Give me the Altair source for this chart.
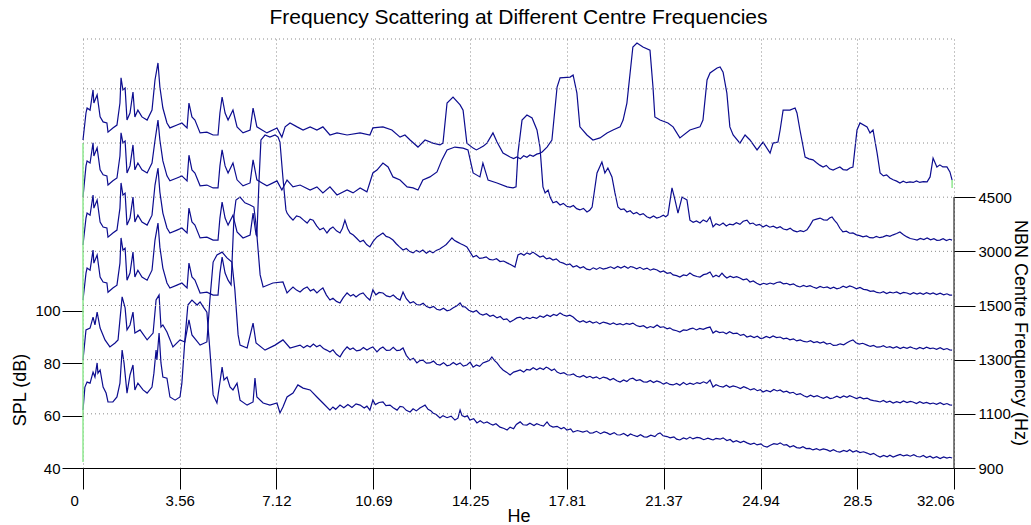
import json
import altair as alt
import pandas as pd

TITLE = "Frequency Scattering at Different Centre Frequencies"
X_TICKS = [0, 3.56, 7.12, 10.69, 14.25, 17.81, 21.37, 24.94, 28.5, 32.06]
SPL_TICKS = [40, 60, 80, 100]
NBN_LABELS = ["900", "1100", "1300", "1500", "3000", "4500"]
NBN_POS = [0, 1, 2, 3, 4, 5]
GRID_LEVELS = [1, 2, 3, 4, 5, 6, 7, 7.92]

# (He, displayed SPL dB), one list per NBN centre frequency
CURVE_4500 = [
    (0, 165.2), (0.11, 175.5), (0.15, 177.4), (0.26, 176.6), (0.37, 184.3), (0.40, 179.3),
    (0.52, 182.4), (0.63, 174.0), (0.74, 172.1), (0.88, 171.7), (0.92, 168.2), (1.10, 169.8),
    (1.25, 170.9), (1.36, 179.3), (1.40, 188.9), (1.47, 184.3), (1.55, 185.0), (1.62, 172.8),
    (1.73, 175.5), (1.84, 183.5), (1.91, 174.0), (2.02, 176.6), (2.17, 174.0), (2.36, 172.8),
    (2.54, 176.6), (2.65, 188.1), (2.76, 194.6), (2.83, 185.4), (2.94, 177.4), (3.09, 171.7),
    (3.20, 169.8), (3.46, 170.9), (3.64, 171.7), (3.83, 169.8), (3.90, 179.3), (4.01, 174.0),
    (4.12, 172.8), (4.31, 167.9), (4.56, 168.2), (4.79, 167.1), (4.97, 167.1), (5.04, 175.5),
    (5.12, 181.6), (5.23, 175.5), (5.34, 172.8), (5.52, 176.6), (5.67, 170.2), (5.89, 167.9),
    (6.15, 169.0), (6.26, 177.4), (6.40, 170.2), (6.59, 169.0), (6.77, 167.9), (7.14, 169.8),
    (7.32, 166.3), (7.44, 170.2), (7.62, 171.7), (7.88, 170.2), (8.10, 169.0), (8.36, 170.2),
    (8.61, 169.0), (8.83, 170.2), (9.09, 167.1), (9.35, 167.9), (9.72, 167.1), (10.20, 167.9),
    (10.56, 167.1), (10.67, 169.8), (11.04, 170.2), (11.37, 169.0), (11.67, 166.3), (11.85, 167.1),
    (12.04, 165.2), (12.33, 162.5), (12.59, 165.2), (12.88, 164.0), (13.14, 163.3), (13.25, 164.0),
    (13.40, 179.3), (13.62, 181.6), (13.88, 178.6), (13.99, 176.6), (14.13, 164.0), (14.36, 162.1),
    (14.48, 161.4), (14.61, 162.1), (14.74, 162.9), (14.87, 164.0), (15.09, 167.9), (15.24, 164.4),
    (15.46, 160.2), (15.72, 158.7), (15.85, 158.1), (15.97, 158.7), (16.10, 158.0), (16.22, 159.2),
    (16.34, 158.6), (16.45, 159.5), (16.57, 159.0), (16.70, 159.8), (16.80, 160.1), (16.90, 160.6),
    (17.08, 162.5), (17.26, 165.2), (17.45, 185.4),
    (17.56, 188.9), (17.93, 189.2), (18.04, 190.0), (18.18, 183.1), (18.29, 170.2), (18.55, 167.1),
    (18.77, 165.2), (19.03, 166.0), (19.29, 167.9), (19.51, 169.0), (19.77, 170.2), (19.88, 172.8),
    (20.02, 179.3), (20.24, 200.7), (20.39, 202.2), (20.61, 200.7), (20.87, 199.5), (20.98, 185.4),
    (21.05, 174.0), (21.24, 172.8), (21.53, 171.7), (21.72, 170.2), (21.97, 166.0), (22.34, 169.0),
    (22.71, 170.2), (22.82, 172.8), (22.97, 188.1), (23.08, 190.8), (23.34, 192.7), (23.45, 193.1),
    (23.56, 191.1), (23.70, 183.1), (23.81, 170.2), (23.93, 167.1), (24.18, 164.0), (24.37, 167.1),
    (24.55, 165.2), (24.81, 161.4), (25.03, 164.4), (25.29, 160.2), (25.40, 164.0), (25.58, 164.4),
    (25.66, 169.0), (25.77, 176.6), (26.02, 176.6), (26.21, 177.4), (26.28, 175.5), (26.39, 169.0),
    (26.58, 158.7), (26.72, 158.0), (26.87, 157.6), (27.00, 156.5), (27.12, 155.6), (27.24, 154.9),
    (27.36, 155.5), (27.48, 154.2), (27.61, 153.7), (27.73, 154.3), (27.86, 154.9), (27.98, 153.9),
    (28.12, 153.7), (28.23, 154.5), (28.34, 154.9), (28.49, 169.0), (28.60, 171.7), (28.86, 170.2),
    (28.97, 167.9), (29.08, 169.0), (29.23, 160.2), (29.34, 152.6), (29.46, 151.5), (29.58, 151.9),
    (29.70, 150.7), (29.82, 150.0), (29.95, 149.5), (30.07, 148.8), (30.19, 149.5), (30.31, 148.9),
    (30.44, 149.2), (30.56, 149.0), (30.68, 149.6), (30.80, 149.0), (30.93, 149.3), (31.07, 149.2),
    (31.18, 151.1), (31.29, 158.3), (31.43, 154.9), (31.54, 155.7), (31.65, 154.9), (31.80, 154.9),
    (31.91, 153.0), (31.99, 149.9),
]

CURVE_3000 = [
    (0, 143.4), (0.11, 155.3), (0.15, 157.2), (0.26, 156.4), (0.37, 164.1), (0.40, 159.1),
    (0.52, 162.2), (0.63, 153.8), (0.74, 151.9), (0.88, 151.5), (0.92, 148.0), (1.10, 149.6),
    (1.25, 150.7), (1.36, 159.1), (1.40, 167.9), (1.47, 164.1), (1.55, 164.8), (1.62, 152.6),
    (1.73, 155.3), (1.84, 163.3), (1.91, 153.8), (2.02, 156.4), (2.17, 153.8), (2.36, 152.6),
    (2.54, 156.4), (2.65, 165.0), (2.76, 172.8), (2.83, 165.2), (2.94, 157.2), (3.09, 151.5),
    (3.20, 149.6), (3.46, 150.7), (3.64, 151.5), (3.83, 149.6), (3.90, 159.4), (4.01, 153.8),
    (4.12, 152.6), (4.31, 147.7), (4.56, 148.0), (4.79, 146.9), (4.97, 146.9), (5.04, 155.3),
    (5.12, 161.4), (5.23, 155.3), (5.34, 152.6), (5.52, 156.4), (5.67, 150.0), (5.89, 147.7),
    (6.15, 148.8), (6.26, 157.6), (6.40, 150.0), (6.59, 148.8), (6.77, 147.7), (7.14, 149.6),
    (7.32, 146.1), (7.51, 149.9), (7.73, 147.3), (7.99, 148.0), (8.36, 146.1), (8.61, 147.3),
    (8.83, 145.0), (9.09, 147.3), (9.35, 144.2), (9.72, 146.1), (9.94, 145.0), (10.20, 146.9),
    (10.45, 145.4), (10.67, 152.6), (10.82, 153.7), (11.04, 156.4), (11.23, 154.9), (11.41, 151.1),
    (11.67, 149.9), (11.93, 147.3), (12.15, 146.9), (12.33, 146.1), (12.51, 149.9), (12.77, 151.1),
    (13.03, 153.0), (13.21, 157.6), (13.40, 161.4), (13.69, 162.5), (13.99, 162.1), (14.17, 161.4),
    (14.36, 152.6), (14.61, 151.1), (14.72, 156.4), (14.91, 149.9), (15.24, 148.8), (15.61, 147.3),
    (15.83, 146.9), (15.94, 147.3), (16.01, 160.2), (16.16, 172.8), (16.34, 174.7), (16.53, 173.6),
    (16.71, 169.0), (16.82, 162.5), (16.93, 147.3), (17.01, 145.0), (17.12, 146.1), (17.20, 143.2),
    (17.30, 141.2), (17.43, 141.7), (17.56, 140.4), (17.68, 141.0), (17.80, 139.9), (17.93, 139.6),
    (18.05, 140.2), (18.17, 139.0), (18.29, 138.5), (18.42, 139.1), (18.55, 137.7), (18.65, 138.4),
    (18.74, 139.6), (18.92, 152.6), (19.10, 156.8), (19.21, 152.6), (19.32, 154.5), (19.47, 151.1),
    (19.58, 145.0), (19.69, 139.6), (19.80, 138.6), (19.91, 138.9), (20.02, 137.7), (20.14, 138.2),
    (20.26, 137.0), (20.38, 137.5), (20.50, 136.6), (20.62, 137.1), (20.75, 135.9), (20.87, 135.4),
    (21.00, 136.2), (21.12, 135.4), (21.24, 135.8), (21.36, 136.5), (21.45, 135.9), (21.53, 136.6),
    (21.68, 146.9), (21.79, 142.3), (21.90, 137.3), (22.05, 143.4), (22.23, 142.3), (22.34, 134.6),
    (22.46, 133.8), (22.58, 134.3), (22.71, 133.5), (22.83, 134.7), (22.96, 134.0), (23.08, 135.8),
    (23.19, 132.0), (23.30, 133.2), (23.43, 132.6), (23.56, 133.5), (23.68, 132.4), (23.80, 133.1),
    (23.93, 132.8), (24.05, 133.6), (24.18, 133.0), (24.30, 134.2), (24.44, 134.6), (24.55, 133.2),
    (24.66, 133.5), (24.78, 132.6), (24.90, 133.0), (25.03, 132.0), (25.15, 132.7), (25.28, 131.9),
    (25.41, 132.3), (25.54, 131.6), (25.66, 132.1), (25.78, 131.2), (25.91, 130.9), (26.03, 131.5),
    (26.15, 130.6), (26.28, 130.1), (26.40, 130.6), (26.52, 130.2), (26.65, 130.9), (26.76, 132.6),
    (26.87, 134.6), (27.00, 135.0), (27.13, 135.4), (27.26, 134.7), (27.39, 134.6), (27.48, 135.4),
    (27.57, 135.8), (27.66, 134.5), (27.75, 133.5), (27.86, 131.5), (27.97, 130.1), (28.10, 130.4),
    (28.22, 129.6), (28.34, 129.7), (28.47, 129.0), (28.59, 128.7), (28.71, 128.2), (28.84, 128.6),
    (28.96, 127.9), (29.08, 127.8), (29.20, 128.4), (29.33, 127.9), (29.45, 128.2), (29.58, 128.8),
    (29.70, 128.4), (29.82, 129.0), (29.95, 129.5), (30.07, 130.1), (30.20, 129.0), (30.33, 128.2),
    (30.45, 127.6), (30.58, 127.3), (30.70, 127.0), (30.82, 127.6), (30.95, 127.2), (31.07, 127.8),
    (31.20, 127.1), (31.32, 127.5), (31.43, 126.9), (31.54, 127.0), (31.66, 127.5), (31.78, 126.8),
    (31.90, 127.3), (31.99, 127.0),
]

CURVE_1500 = [
    (0, 125.1), (0.11, 135.4), (0.15, 137.3), (0.26, 136.5), (0.37, 144.2), (0.40, 139.2),
    (0.52, 142.3), (0.63, 133.9), (0.74, 132.0), (0.88, 131.6), (0.92, 128.1), (1.10, 129.7),
    (1.25, 130.8), (1.36, 139.2), (1.40, 148.8), (1.47, 144.2), (1.55, 144.9), (1.62, 132.7),
    (1.73, 135.4), (1.84, 143.4), (1.91, 133.9), (2.02, 136.5), (2.17, 133.9), (2.36, 132.7),
    (2.54, 136.5), (2.65, 148.0), (2.76, 154.5), (2.83, 145.3), (2.94, 137.3), (3.09, 131.6),
    (3.20, 129.7), (3.46, 130.8), (3.64, 131.6), (3.83, 129.7), (3.90, 139.2), (4.01, 133.9),
    (4.12, 132.7), (4.31, 127.8), (4.56, 128.1), (4.79, 127.0), (4.97, 127.0), (5.04, 135.4),
    (5.12, 141.5), (5.23, 135.4), (5.34, 132.7), (5.52, 136.5), (5.67, 130.1), (5.89, 127.8),
    (6.15, 128.9), (6.26, 137.3), (6.37, 129.0), (6.40, 128.6), (6.48, 149.9), (6.55, 165.2),
    (6.70, 167.1), (6.88, 166.3), (7.07, 167.1), (7.18, 166.3), (7.25, 164.4), (7.36, 150.7),
    (7.47, 138.5), (7.51, 137.3), (7.62, 135.8), (7.73, 134.6), (7.86, 136.2), (7.99, 135.8),
    (8.12, 134.6), (8.25, 133.5), (8.36, 135.0), (8.47, 134.6), (8.60, 132.4), (8.72, 130.9),
    (8.85, 131.6), (8.98, 129.7), (9.09, 131.2), (9.20, 132.0), (9.33, 130.5), (9.46, 129.7),
    (9.55, 131.5), (9.64, 134.6), (9.74, 131.4), (9.83, 129.7), (9.95, 128.9), (10.08, 127.6),
    (10.20, 126.3), (10.32, 126.9), (10.44, 125.3), (10.56, 124.4), (10.68, 126.5), (10.82, 128.2),
    (10.93, 128.9), (11.04, 129.7), (11.16, 128.4), (11.28, 128.0), (11.41, 127.0), (11.53, 125.6),
    (11.65, 124.4), (11.78, 123.2), (11.90, 123.8), (12.03, 122.6), (12.15, 122.1), (12.27, 123.0),
    (12.39, 122.4), (12.51, 123.2), (12.64, 122.0), (12.76, 122.8), (12.88, 122.1), (13.00, 123.0),
    (13.13, 123.6), (13.25, 124.4), (13.37, 125.3), (13.48, 126.6), (13.58, 127.8), (13.68, 126.8),
    (13.77, 126.3), (13.90, 125.6), (14.02, 125.0), (14.13, 124.4), (14.25, 122.4), (14.36, 120.5),
    (14.48, 121.1), (14.60, 120.0), (14.72, 120.2), (14.84, 120.6), (14.96, 119.6), (15.09, 119.4),
    (15.22, 119.9), (15.35, 118.8), (15.48, 119.0), (15.61, 118.3), (15.75, 117.6), (15.90, 116.7),
    (16.01, 121.3), (16.12, 121.9), (16.23, 121.2), (16.34, 122.1), (16.45, 121.6), (16.56, 122.4),
    (16.70, 121.4), (16.82, 120.5), (16.94, 120.9), (17.06, 119.8), (17.18, 120.2), (17.30, 119.4),
    (17.42, 119.8), (17.55, 118.6), (17.68, 118.2), (17.81, 117.5), (17.92, 117.9), (18.04, 116.7),
    (18.17, 117.2), (18.30, 116.3), (18.42, 116.8), (18.54, 115.9), (18.66, 115.6), (18.78, 116.4),
    (18.90, 115.8), (19.02, 116.5), (19.15, 115.9), (19.29, 116.3), (19.42, 116.8), (19.55, 116.1),
    (19.68, 116.9), (19.80, 116.3), (19.93, 117.0), (20.06, 116.2), (20.15, 116.9), (20.24, 116.7),
    (20.38, 116.0), (20.50, 116.6), (20.63, 115.8), (20.76, 116.3), (20.88, 115.5), (21.00, 116.0),
    (21.13, 115.6), (21.25, 114.8), (21.37, 115.2), (21.50, 114.3), (21.62, 114.6), (21.72, 113.7),
    (21.85, 113.4), (21.97, 112.9), (22.10, 113.7), (22.22, 113.4), (22.34, 114.4), (22.47, 113.5),
    (22.60, 113.1), (22.71, 112.9), (22.84, 113.8), (22.96, 114.1), (23.08, 114.8), (23.19, 112.9),
    (23.30, 113.6), (23.41, 113.0), (23.52, 114.4), (23.61, 113.3), (23.70, 112.5), (23.82, 113.2),
    (23.94, 112.7), (24.06, 113.0), (24.18, 112.5), (24.30, 111.8), (24.43, 112.2), (24.55, 111.0),
    (24.67, 111.4), (24.80, 110.5), (24.92, 109.9), (25.05, 110.5), (25.17, 110.1), (25.29, 110.6),
    (25.42, 110.2), (25.54, 110.8), (25.66, 111.0), (25.78, 110.3), (25.90, 110.5), (26.02, 109.9),
    (26.15, 110.3), (26.27, 109.5), (26.39, 109.1), (26.52, 109.7), (26.64, 109.2), (26.76, 109.6),
    (26.87, 109.1), (27.00, 108.6), (27.13, 109.3), (27.26, 108.8), (27.39, 109.1), (27.51, 108.5),
    (27.63, 109.0), (27.75, 108.4), (27.86, 108.7), (27.98, 109.4), (28.10, 108.9), (28.22, 109.5),
    (28.34, 109.1), (28.47, 108.4), (28.60, 108.9), (28.73, 108.2), (28.86, 108.0), (28.98, 107.4),
    (29.10, 107.6), (29.22, 107.0), (29.34, 106.8), (29.46, 107.3), (29.58, 106.6), (29.70, 107.1),
    (29.82, 106.8), (29.95, 107.2), (30.08, 106.5), (30.20, 107.0), (30.33, 106.8), (30.45, 106.3),
    (30.57, 106.9), (30.70, 106.4), (30.81, 106.8), (30.93, 106.3), (31.05, 106.9), (31.18, 106.4),
    (31.29, 106.8), (31.42, 106.2), (31.55, 106.7), (31.68, 106.1), (31.80, 106.5), (31.90, 106.0),
    (31.99, 106.0),
]

CURVE_1300 = [
    (0, 104.1), (0.11, 114.4), (0.15, 116.3), (0.26, 115.5), (0.37, 123.2), (0.40, 118.2),
    (0.52, 121.3), (0.63, 112.9), (0.74, 111.0), (0.88, 110.6), (0.92, 107.1), (1.10, 108.7),
    (1.25, 109.8), (1.36, 118.2), (1.40, 127.8), (1.47, 123.2), (1.55, 123.9), (1.62, 111.7),
    (1.73, 114.4), (1.84, 122.4), (1.91, 112.9), (2.02, 115.5), (2.17, 112.9), (2.36, 111.7),
    (2.54, 115.5), (2.65, 127.0), (2.76, 133.5), (2.83, 124.3), (2.94, 116.3), (3.09, 110.6),
    (3.20, 108.7), (3.46, 109.8), (3.64, 110.6), (3.83, 108.7), (3.90, 118.2), (4.01, 112.9),
    (4.12, 111.7), (4.31, 106.8), (4.56, 107.1), (4.79, 106.0), (4.97, 106.0), (5.04, 114.4),
    (5.12, 120.5), (5.23, 114.4), (5.34, 111.7), (5.45, 109.9), (5.56, 136.6), (5.63, 142.3),
    (5.78, 143.4), (5.96, 141.2), (6.15, 140.4), (6.29, 139.6), (6.37, 132.8), (6.52, 113.7),
    (6.63, 109.1), (6.99, 110.6), (7.36, 111.0), (7.51, 106.8), (7.62, 108.0), (7.73, 109.1),
    (7.86, 107.9), (7.99, 107.2), (8.12, 108.4), (8.25, 109.1), (8.37, 107.6), (8.49, 108.2),
    (8.61, 106.8), (8.72, 107.9), (8.83, 108.7), (8.96, 106.0), (9.09, 104.1), (9.20, 104.8),
    (9.33, 103.6), (9.46, 103.0), (9.58, 105.0), (9.72, 106.8), (9.85, 105.6), (9.95, 106.2),
    (10.05, 105.3), (10.18, 106.3), (10.31, 106.8), (10.44, 105.2), (10.56, 104.1), (10.67, 108.0),
    (10.78, 106.1), (10.90, 107.0), (11.04, 106.8), (11.17, 105.7), (11.30, 105.3), (11.42, 106.0),
    (11.55, 104.8), (11.67, 104.1), (11.78, 107.2), (11.90, 104.6), (12.04, 103.0), (12.16, 103.5),
    (12.28, 102.4), (12.40, 102.2), (12.52, 102.9), (12.65, 101.6), (12.77, 101.1), (12.90, 101.7),
    (13.02, 100.6), (13.14, 100.3), (13.27, 101.0), (13.40, 100.0), (13.51, 100.3), (13.63, 101.2),
    (13.75, 101.8), (13.88, 103.0), (13.97, 101.6), (14.06, 101.5), (14.20, 100.2), (14.36, 99.5),
    (14.48, 100.1), (14.60, 98.9), (14.72, 98.4), (14.85, 98.9), (14.98, 97.9), (15.10, 98.3),
    (15.24, 97.3), (15.36, 97.8), (15.48, 96.6), (15.60, 96.9), (15.72, 95.7), (15.85, 96.5),
    (15.97, 97.3), (16.09, 97.6), (16.21, 96.8), (16.33, 97.5), (16.45, 97.0), (16.56, 97.6),
    (16.70, 97.1), (16.82, 98.0), (16.95, 97.5), (17.08, 98.4), (17.20, 97.8), (17.32, 98.6),
    (17.44, 98.2), (17.56, 99.2), (17.68, 98.4), (17.80, 98.0), (17.92, 98.3), (18.04, 97.6),
    (18.17, 96.4), (18.29, 95.7), (18.41, 96.2), (18.53, 95.5), (18.65, 96.0), (18.77, 95.3),
    (18.90, 95.8), (19.02, 95.0), (19.15, 95.7), (19.29, 95.3), (19.40, 94.8), (19.52, 95.4),
    (19.65, 94.7), (19.77, 95.1), (19.88, 94.6), (20.00, 95.2), (20.12, 94.8), (20.24, 95.3),
    (20.37, 94.4), (20.50, 94.0), (20.63, 94.3), (20.76, 93.4), (20.88, 94.0), (21.00, 93.6),
    (21.13, 94.6), (21.25, 93.7), (21.37, 93.9), (21.50, 93.1), (21.60, 93.5), (21.72, 92.7),
    (21.85, 92.4), (21.97, 91.9), (22.10, 92.7), (22.22, 92.5), (22.34, 93.1), (22.45, 93.4),
    (22.58, 92.7), (22.70, 93.3), (22.83, 92.9), (22.96, 93.5), (23.08, 93.8), (23.19, 91.5),
    (23.30, 92.3), (23.43, 91.7), (23.56, 91.9), (23.68, 91.2), (23.80, 92.0), (23.93, 91.3),
    (24.07, 91.5), (24.20, 90.6), (24.32, 91.0), (24.44, 90.0), (24.57, 90.4), (24.70, 89.8),
    (24.82, 90.3), (24.93, 89.5), (25.03, 89.6), (25.15, 90.2), (25.28, 89.7), (25.40, 90.4),
    (25.53, 89.8), (25.66, 90.0), (25.78, 89.3), (25.90, 89.6), (26.02, 88.9), (26.15, 89.3),
    (26.27, 88.5), (26.40, 88.9), (26.53, 88.3), (26.65, 88.1), (26.78, 88.6), (26.90, 87.9),
    (27.02, 88.2), (27.13, 87.7), (27.26, 88.1), (27.38, 87.3), (27.50, 87.6), (27.62, 86.8),
    (27.75, 86.9), (27.87, 87.4), (28.00, 87.0), (28.12, 87.8), (28.22, 88.4), (28.34, 88.9),
    (28.45, 87.8), (28.57, 87.3), (28.70, 87.6), (28.86, 86.9), (28.98, 86.4), (29.10, 86.8),
    (29.22, 86.1), (29.34, 86.2), (29.46, 86.7), (29.58, 86.0), (29.70, 86.3), (29.82, 85.8),
    (29.95, 86.3), (30.08, 85.6), (30.20, 86.1), (30.33, 85.7), (30.45, 86.2), (30.55, 85.8),
    (30.68, 85.4), (30.80, 86.0), (30.93, 85.5), (31.05, 86.1), (31.18, 85.6), (31.29, 85.8),
    (31.42, 85.3), (31.55, 85.9), (31.68, 85.2), (31.80, 85.6), (31.90, 85.1), (31.99, 85.0),
]

CURVE_1100 = [
    (0, 81.2), (0.11, 92.7), (0.26, 93.4), (0.37, 97.6), (0.44, 94.6), (0.52, 99.5),
    (0.63, 93.4), (0.81, 88.9), (0.99, 86.2), (1.18, 87.7), (1.29, 88.9), (1.44, 105.3),
    (1.55, 101.1), (1.62, 92.7), (1.73, 94.6), (1.84, 99.5), (1.91, 91.5), (2.10, 92.7),
    (2.36, 88.9), (2.58, 91.5), (2.69, 104.1), (2.80, 106.0), (2.87, 93.8), (2.94, 94.6),
    (3.09, 91.9), (3.31, 86.2), (3.57, 88.9), (3.75, 88.1), (3.90, 96.5), (4.01, 90.8),
    (4.31, 86.9), (4.56, 88.1), (4.67, 104.1), (4.79, 118.6), (4.93, 121.3), (5.12, 122.4),
    (5.30, 120.2), (5.48, 118.6), (5.59, 108.0), (5.71, 90.8), (5.78, 86.9), (6.04, 85.8),
    (6.26, 95.3), (6.37, 87.7), (6.70, 85.0), (7.07, 86.9), (7.36, 88.9), (7.62, 85.8),
    (7.99, 86.9), (8.12, 85.9), (8.25, 86.8), (8.36, 86.2), (8.48, 87.3), (8.60, 86.3),
    (8.72, 86.9), (8.85, 85.6), (8.97, 85.0), (9.09, 84.3), (9.20, 85.1), (9.33, 83.4),
    (9.46, 82.4), (9.58, 84.5), (9.72, 86.2), (9.83, 85.2), (9.94, 85.8), (10.07, 84.7),
    (10.20, 85.0), (10.32, 86.0), (10.45, 85.0), (10.56, 85.7), (10.67, 86.2), (10.82, 84.3),
    (10.93, 85.5), (11.04, 86.2), (11.17, 84.9), (11.30, 85.0), (11.42, 86.1), (11.55, 84.8),
    (11.67, 85.0), (11.78, 85.8), (11.90, 83.0), (12.04, 81.2), (12.16, 81.9), (12.29, 80.1),
    (12.40, 81.0), (12.51, 81.2), (12.64, 80.0), (12.77, 80.1), (12.90, 80.8), (13.02, 79.6),
    (13.14, 79.3), (13.27, 80.2), (13.40, 79.0), (13.51, 79.3), (13.63, 80.3), (13.75, 79.4),
    (13.88, 80.1), (14.00, 78.9), (14.13, 79.3), (14.25, 80.4), (14.36, 78.5), (14.48, 79.3),
    (14.60, 78.8), (14.72, 80.1), (14.85, 80.6), (14.95, 81.0), (15.05, 82.4), (15.15, 81.0),
    (15.24, 80.1), (15.35, 78.6), (15.46, 77.4), (15.60, 76.5), (15.72, 75.5), (15.85, 76.6),
    (15.97, 77.0), (16.09, 77.4), (16.22, 76.6), (16.33, 77.6), (16.45, 77.4), (16.57, 78.3),
    (16.70, 77.5), (16.82, 78.2), (16.95, 77.6), (17.05, 78.5), (17.12, 78.2), (17.25, 77.2),
    (17.35, 77.8), (17.45, 76.6), (17.58, 76.0), (17.70, 76.4), (17.82, 75.6), (17.93, 75.5),
    (18.05, 75.9), (18.17, 75.0), (18.29, 74.7), (18.42, 75.3), (18.54, 74.5), (18.66, 75.0),
    (18.77, 74.3), (18.90, 74.8), (19.02, 74.0), (19.15, 74.7), (19.29, 74.3), (19.40, 73.6),
    (19.52, 74.2), (19.65, 73.3), (19.77, 72.8), (19.90, 73.6), (20.02, 73.0), (20.13, 74.0),
    (20.24, 74.3), (20.37, 73.4), (20.50, 73.7), (20.63, 72.9), (20.76, 72.8), (20.88, 73.4),
    (21.00, 72.6), (21.12, 73.2), (21.24, 72.8), (21.36, 72.0), (21.48, 72.6), (21.60, 71.9),
    (21.72, 71.7), (21.85, 72.3), (21.97, 71.6), (22.10, 72.6), (22.22, 71.8), (22.34, 72.4),
    (22.47, 71.9), (22.60, 72.6), (22.71, 72.2), (22.84, 72.9), (22.96, 72.3), (23.08, 73.6),
    (23.19, 70.9), (23.30, 71.8), (23.43, 71.2), (23.56, 70.9), (23.68, 71.6), (23.80, 70.8),
    (23.93, 71.3), (24.07, 70.9), (24.20, 70.3), (24.32, 71.0), (24.44, 70.5), (24.57, 69.8),
    (24.70, 70.3), (24.82, 69.5), (24.93, 69.9), (25.03, 69.0), (25.16, 69.6), (25.30, 69.1),
    (25.43, 70.0), (25.55, 69.4), (25.66, 69.8), (25.78, 69.0), (25.90, 69.3), (26.02, 68.6),
    (26.14, 68.9), (26.27, 68.0), (26.40, 68.4), (26.53, 67.6), (26.65, 67.1), (26.78, 67.8),
    (26.90, 67.2), (27.02, 67.6), (27.13, 67.1), (27.25, 66.6), (27.38, 67.2), (27.50, 66.5),
    (27.61, 66.7), (27.75, 67.4), (27.87, 66.8), (28.00, 67.5), (28.12, 67.0), (28.22, 67.6),
    (28.34, 67.1), (28.47, 66.5), (28.60, 67.0), (28.73, 66.4), (28.86, 66.7), (28.98, 66.0),
    (29.10, 65.7), (29.22, 65.5), (29.34, 65.2), (29.46, 65.8), (29.58, 65.1), (29.70, 65.5),
    (29.82, 64.8), (29.95, 65.3), (30.08, 64.9), (30.20, 65.6), (30.33, 65.0), (30.45, 65.4),
    (30.55, 65.2), (30.68, 64.6), (30.80, 65.3), (30.93, 64.7), (31.05, 65.0), (31.18, 64.5),
    (31.29, 64.8), (31.42, 64.3), (31.55, 64.9), (31.68, 64.2), (31.80, 64.6), (31.90, 64.1),
    (31.99, 64.0),
]

CURVE_900 = [
    (0, 62.1), (0.07, 70.9), (0.15, 72.8), (0.26, 72.4), (0.37, 76.6), (0.44, 74.7),
    (0.52, 80.1), (0.55, 76.2), (0.63, 77.4), (0.74, 70.9), (0.85, 68.6), (0.92, 65.2),
    (1.10, 65.2), (1.25, 67.1), (1.36, 72.4), (1.44, 85.0), (1.51, 80.1), (1.62, 68.6),
    (1.73, 75.5), (1.84, 79.3), (1.91, 69.8), (2.02, 72.4), (2.21, 69.8), (2.36, 68.6),
    (2.54, 70.9), (2.61, 76.2), (2.69, 85.0), (2.72, 81.2), (2.80, 91.5), (2.87, 80.1),
    (2.94, 74.7), (3.09, 74.3), (3.20, 67.1), (3.39, 65.9), (3.57, 67.1), (3.64, 72.4),
    (3.75, 88.9), (3.86, 102.2), (4.01, 104.1), (4.20, 102.2), (4.31, 103.4), (4.45, 101.1),
    (4.56, 99.5), (4.67, 85.0), (4.79, 67.9), (4.93, 64.8), (5.12, 78.5), (5.19, 73.6),
    (5.30, 74.7), (5.41, 70.9), (5.52, 69.8), (5.67, 72.4), (5.78, 65.9), (6.04, 64.0),
    (6.26, 65.2), (6.33, 74.3), (6.40, 67.1), (6.63, 64.8), (6.88, 64.0), (7.14, 64.8),
    (7.25, 61.0), (7.36, 63.3), (7.51, 67.1), (7.73, 68.6), (7.91, 71.7), (8.10, 70.5),
    (8.36, 69.8), (8.61, 67.1), (8.83, 64.8), (9.09, 62.1), (9.20, 63.3), (9.30, 62.4),
    (9.46, 64.0), (9.60, 63.0), (9.75, 64.2), (9.90, 63.1), (10.05, 64.5), (10.20, 64.0),
    (10.35, 62.9), (10.45, 63.6), (10.56, 62.1), (10.67, 65.9), (10.76, 64.2), (10.90, 65.0),
    (11.04, 65.2), (11.15, 63.8), (11.30, 64.0), (11.42, 63.0), (11.56, 62.1), (11.67, 63.5),
    (11.78, 63.3), (11.90, 62.0), (12.04, 61.4), (12.15, 62.6), (12.27, 61.8), (12.40, 62.9),
    (12.50, 63.5), (12.59, 64.0), (12.70, 62.4), (12.80, 61.9), (12.88, 61.0), (13.00, 60.4),
    (13.14, 59.1), (13.25, 60.0), (13.40, 59.2), (13.55, 59.8), (13.69, 58.3), (13.80, 59.0),
    (13.88, 62.1), (13.95, 60.0), (14.05, 59.5), (14.15, 59.9), (14.24, 58.3), (14.38, 58.8),
    (14.50, 57.2), (14.62, 58.0), (14.75, 57.1), (14.87, 57.6), (15.00, 56.8), (15.09, 56.4),
    (15.20, 56.9), (15.35, 55.6), (15.50, 55.1), (15.61, 54.5), (15.72, 55.6), (15.85, 55.0),
    (15.95, 56.6), (16.09, 57.6), (16.20, 56.5), (16.34, 56.4), (16.45, 57.1), (16.60, 56.2),
    (16.70, 56.9), (16.82, 56.4), (16.95, 56.0), (17.08, 57.6), (17.18, 56.2), (17.30, 55.6),
    (17.45, 55.9), (17.60, 55.0), (17.70, 55.5), (17.81, 54.5), (17.95, 54.9), (18.04, 53.7),
    (18.20, 54.3), (18.40, 53.7), (18.55, 54.2), (18.66, 53.3), (18.77, 53.4), (18.90, 54.0),
    (19.05, 53.1), (19.18, 53.8), (19.29, 53.4), (19.40, 52.8), (19.55, 53.5), (19.66, 52.7),
    (19.77, 52.6), (19.90, 53.2), (20.05, 52.2), (20.15, 53.0), (20.24, 52.6), (20.40, 52.0),
    (20.52, 52.7), (20.65, 51.9), (20.76, 51.8), (20.90, 52.5), (21.05, 52.0), (21.15, 53.0),
    (21.24, 53.4), (21.35, 52.3), (21.50, 52.0), (21.61, 51.5), (21.75, 51.9), (21.85, 51.0),
    (21.97, 50.7), (22.10, 51.5), (22.22, 51.0), (22.34, 51.8), (22.45, 51.1), (22.60, 51.7),
    (22.71, 51.5), (22.85, 50.8), (23.00, 51.4), (23.10, 51.0), (23.19, 50.7), (23.30, 51.3),
    (23.45, 51.0), (23.56, 51.5), (23.70, 50.5), (23.82, 50.9), (23.93, 49.9), (24.05, 50.4),
    (24.20, 49.7), (24.32, 50.2), (24.44, 49.6), (24.57, 49.0), (24.70, 49.5), (24.81, 48.8),
    (24.95, 49.2), (25.05, 48.4), (25.18, 48.0), (25.30, 48.7), (25.43, 49.3), (25.55, 49.0),
    (25.66, 49.6), (25.80, 48.7), (25.90, 48.9), (26.02, 48.0), (26.15, 48.5), (26.27, 47.8),
    (26.39, 47.6), (26.50, 48.1), (26.62, 47.4), (26.75, 47.5), (26.87, 46.9), (27.00, 47.4),
    (27.12, 46.8), (27.25, 47.3), (27.39, 46.9), (27.50, 46.4), (27.62, 47.0), (27.75, 46.3),
    (27.86, 46.1), (28.00, 46.7), (28.12, 46.3), (28.22, 47.0), (28.34, 46.1), (28.47, 46.6),
    (28.60, 45.9), (28.73, 46.2), (28.86, 45.7), (28.98, 45.1), (29.10, 45.6), (29.22, 44.8),
    (29.34, 44.2), (29.47, 44.8), (29.60, 44.3), (29.70, 44.9), (29.82, 44.2), (29.95, 44.7),
    (30.08, 45.2), (30.20, 44.6), (30.33, 45.0), (30.45, 44.5), (30.58, 45.1), (30.70, 44.4),
    (30.81, 44.2), (30.93, 44.8), (31.05, 44.0), (31.18, 44.5), (31.29, 43.8), (31.42, 44.3),
    (31.55, 43.6), (31.68, 44.2), (31.80, 43.8), (31.90, 44.1), (31.99, 43.8),
]

CURVES = {
    "900": CURVE_900, "1100": CURVE_1100, "1300": CURVE_1300,
    "1500": CURVE_1500, "3000": CURVE_3000, "4500": CURVE_4500,
}

# light-green traces visible at the ends of the spectra
GREEN_HE = [0, 31.99]
GREEN_LO = [42.3, 146.9]
GREEN_HI = [164.0, 149.9]

X_MAX = 32.06
Y_DOMAIN = [40, 203.74]
NBN_DOMAIN = [0, 7.92]
NBN_TOP_DB = 143.4  # SPL level of the 4500 tick, where the right axis line ends

BLUE = "#0c0c8f"
GREEN = "#8fe88f"
GRID = "#8a8a8a"

rows = []
for name, pts in CURVES.items():
    for i, (he, spl) in enumerate(pts):
        rows.append({"curve": name, "i": i, "He": he, "SPL": spl})
df = pd.DataFrame(rows)

green_df = pd.DataFrame({"He": GREEN_HE, "SPL": GREEN_LO, "SPL2": GREEN_HI})
rdom_df = pd.DataFrame({"He": [X_MAX], "SPL": [Y_DOMAIN[0]], "SPL2": [NBN_TOP_DB]})
grid_df = pd.DataFrame({"g": GRID_LEVELS, "He": [0] * len(GRID_LEVELS), "He2": [X_MAX] * len(GRID_LEVELS)})

x_scale = alt.Scale(domain=[0, X_MAX], nice=False, zero=False)
y_scale = alt.Scale(domain=Y_DOMAIN, nice=False, zero=False)

x_axis = alt.Axis(
    values=X_TICKS, format=".4~f", grid=True, gridDash=[1, 3], gridColor=GRID, gridWidth=1,
    tickSize=21, tickColor="black", domainColor="black", labelFontSize=15, labelPadding=4,
    labelOffset={"condition": {"test": "datum.value == 0", "value": -13}, "value": 0},
    title="He", titleFontSize=18, titleBaseline="alphabetic", titleY=53,
)
y_axis = alt.Axis(
    orient="left", values=SPL_TICKS, grid=False, domain=False, tickSize=21, tickColor="black",
    labelFontSize=15, labelPadding=2, title="SPL (dB)", titleFontSize=18, titleAngle=-90,
    titleX=-63, titleY=350.5, titleAlign="center", titleBaseline="middle",
)
label_expr = json.dumps(NBN_LABELS) + "[datum.value]"
r_axis = alt.Axis(
    orient="right", values=NBN_POS, labelExpr=label_expr, grid=False, domain=False,
    tickSize=21, tickColor="black", labelFontSize=15, labelPadding=3,
    title="NBN Centre Frequency (Hz)", titleFontSize=18, titleAngle=90,
    titleX=65, titleY=293.5, titleAlign="center", titleBaseline="middle",
)

lines = alt.Chart(df).mark_line(color=BLUE, strokeWidth=1.2).encode(
    x=alt.X("He:Q", scale=x_scale, axis=x_axis),
    y=alt.Y("SPL:Q", scale=y_scale, axis=y_axis),
    detail="curve:N",
    order="i:Q",
)

green = alt.Chart(green_df).mark_rule(color=GREEN, strokeWidth=1.5).encode(
    x=alt.X("He:Q", scale=x_scale, axis=x_axis),
    y=alt.Y("SPL:Q", scale=y_scale, axis=y_axis),
    y2="SPL2:Q",
)

rdom = alt.Chart(rdom_df).mark_rule(color="black", strokeWidth=1).encode(
    x=alt.X("He:Q", scale=x_scale, axis=x_axis),
    y=alt.Y("SPL:Q", scale=y_scale, axis=y_axis),
    y2="SPL2:Q",
)

grid_layer = alt.Chart(grid_df).mark_rule(color=GRID, strokeDash=[1, 3], strokeWidth=1).encode(
    y=alt.Y("g:Q", scale=alt.Scale(domain=NBN_DOMAIN, nice=False, zero=False), axis=r_axis),
    x=alt.X("He:Q", scale=x_scale, axis=x_axis),
    x2="He2:Q",
)

left_group = alt.layer(lines, green, rdom)

chart = alt.layer(left_group, grid_layer).resolve_scale(y="independent").properties(
    width=871, height=429,
    title=alt.TitleParams(TITLE, fontSize=21, fontWeight="normal", anchor="middle", offset=11, color="black"),
    padding={"left": 83, "top": 39, "right": 77, "bottom": 57},
    autosize=alt.AutoSizeParams(type="none"),
).configure(font="Liberation Sans").configure_view(stroke="transparent").configure_axis(
    labelColor="black", titleColor="black", titleFontWeight="normal",
)

chart.save("out.html", embed_options={"renderer": "svg", "actions": False})
